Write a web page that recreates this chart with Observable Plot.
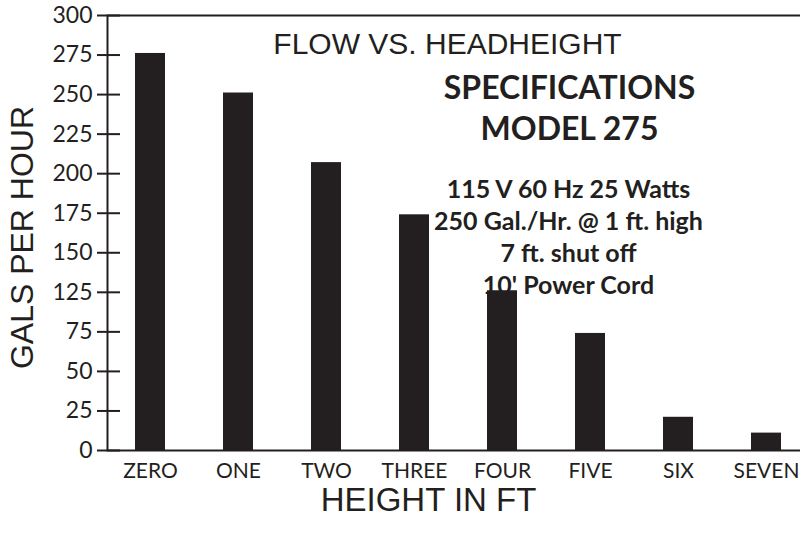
<!DOCTYPE html>
<html>
<head>
<meta charset="utf-8">
<script src="https://cdn.jsdelivr.net/npm/d3@7"></script>
<script src="https://cdn.jsdelivr.net/npm/@observablehq/plot@0.6"></script>
<style>
  html, body { margin: 0; padding: 0; background: #fff; }
  #chart { width: 800px; height: 536px; }
</style>
</head>
<body>
<div id="chart"></div>
<script>
// ---- data ----
const heights = ["ZERO", "ONE", "TWO", "THREE", "FOUR", "FIVE", "SIX", "SEVEN"];
const galsPerHour = [276, 251, 207, 174, 126, 74, 21, 11];
const yTicks = [0, 25, 50, 75, 125, 150, 175, 200, 225, 250, 275, 300];
const titleText = "FLOW VS. HEADHEIGHT";
const specHeading = "SPECIFICATIONS";
const specModel = "MODEL 275";
const specLines = ["115 V 60 Hz 25 Watts", "250 Gal./Hr. @ 1 ft. high", "7 ft. shut off", "10' Power Cord"];
const xTitle = "HEIGHT IN FT";
const yTitle = "GALS PER HOUR";

// ---- layout ----
const W = 800, H = 536;
const mTop = 15, mBottom = 86, mLeft = 107, mRight = -2;
const ink = "#231f20";
const plotBottom = H - mBottom;
const stepY = (plotBottom - mTop) / (yTicks.length - 1);
// the original axis spaces its (irregular) tick labels evenly
const yRange = yTicks.map((_, i) => plotBottom - i * stepY);

const table = heights.map((h, i) => ({h, v: galsPerHour[i]}));
const frameCenterX = (mLeft + (W - mRight)) / 2;
const frameCenterY = (mTop + plotBottom) / 2;

const chart = Plot.plot({
  width: W,
  height: H,
  marginTop: mTop,
  marginBottom: mBottom,
  marginLeft: mLeft,
  marginRight: mRight,
  style: {fontFamily: "Lato", color: ink, background: "white", overflow: "visible"},
  x: {domain: heights, paddingInner: 0.66, paddingOuter: 0.248, align: 0.57, label: null},
  y: {type: "linear", domain: yTicks, range: yRange, label: null},
  marks: [
    Plot.barY(table, {x: "h", y: "v", fill: ink}),
    Plot.frame({stroke: ink, strokeWidth: 2}),
    Plot.axisY(yTicks, {tickSize: 23, dx: 13, tickPadding: 5, fontSize: 23, stroke: ink, strokeWidth: 2, fill: ink, label: null}),
    Plot.axisX({tickSize: 0, tickPadding: 13, fontSize: 21, fill: ink, label: null}),
    Plot.text([titleText], {
      frameAnchor: "top", lineAnchor: "middle", dx: 447 - frameCenterX, dy: 29,
      fontFamily: "Liberation Sans", fontSize: 30, fill: ink
    }),
    Plot.text([specHeading], {
      ariaLabel: "spec-heading",
      frameAnchor: "top", lineAnchor: "middle", dx: 569 - frameCenterX, dy: 73.5,
      fontFamily: "Lato", fontWeight: "bold", fontSize: 32, fill: ink
    }),
    Plot.text([specModel], {
      ariaLabel: "spec-model",
      frameAnchor: "top", lineAnchor: "middle", dx: 569 - frameCenterX, dy: 114,
      fontFamily: "Lato", fontWeight: "bold", fontSize: 32, fill: ink
    }),
    Plot.text([specLines.join("\n")], {
      ariaLabel: "spec-lines",
      frameAnchor: "top", lineAnchor: "middle", dx: 568 - frameCenterX, dy: 220, lineHeight: 1.28,
      fontFamily: "Lato", fontWeight: "bold", fontSize: 25, fill: ink
    }),
    Plot.text([xTitle], {
      frameAnchor: "bottom", lineAnchor: "middle", dx: 428 - frameCenterX, dy: 50,
      fontFamily: "Liberation Sans", fontSize: 33, fill: ink
    }),
    Plot.text([yTitle], {
      frameAnchor: "left", textAnchor: "middle", lineAnchor: "middle", rotate: -90,
      dx: 22 - mLeft, dy: 237 - frameCenterY,
      fontFamily: "Liberation Sans", fontSize: 32, fill: ink
    })
  ]
});
d3.select(chart).select('g[aria-label="spec-heading"]').style("letter-spacing", "2.2px");
d3.select(chart).select('g[aria-label="spec-model"]').style("letter-spacing", "0.8px");
d3.select(chart).select('g[aria-label="spec-lines"]').style("letter-spacing", "0.4px");
document.getElementById("chart").appendChild(chart);
</script>
</body>
</html>
